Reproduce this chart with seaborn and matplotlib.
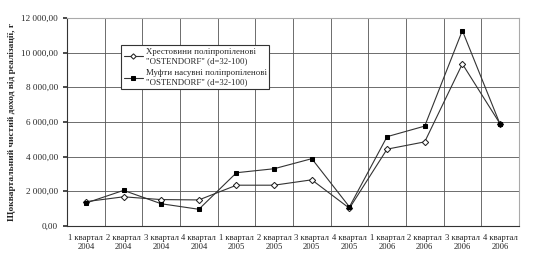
import matplotlib
matplotlib.use("Agg")
import matplotlib.pyplot as plt
import matplotlib.ticker as mticker
import numpy as np
import pandas as pd
import seaborn as sns

QUARTERS = ["1 квартал", "2 квартал", "3 квартал", "4 квартал"] * 3
YEARS = ["2004"] * 4 + ["2005"] * 4 + ["2006"] * 4
CATEGORIES = [f"{q}\n{y}" for q, y in zip(QUARTERS, YEARS)]

CROSS = [1400, 1680, 1520, 1500, 2350, 2350, 2660, 1020, 4430, 4850, 9350, 5900]
COUPLING = [1320, 2050, 1280, 960, 3070, 3300, 3880, 1100, 5150, 5760, 11270, 5880]

NAME_CROSS = "Хрестовини поліпропіленові\n\"OSTENDORF\" (d=32-100)"
NAME_COUPLING = "Муфти насувні поліпропіленові\n\"OSTENDORF\" (d=32-100)"
YLABEL = "Щоквартальний чистий доход від реалізації, г"

df = pd.DataFrame({
    "period": CATEGORIES * 2,
    "value": CROSS + COUPLING,
    "series": [NAME_CROSS] * len(CROSS) + [NAME_COUPLING] * len(COUPLING),
})

sns.set_theme(style="white")
plt.rcParams["font.family"] = ["Liberation Serif", "DejaVu Serif"]

fig = plt.figure(figsize=(5.41, 2.68), dpi=100)
ax = fig.add_axes([0.124, 0.157, 0.835, 0.776])

sns.lineplot(
    data=df, x="period", y="value", hue="series", style="series",
    hue_order=[NAME_CROSS, NAME_COUPLING],
    palette={NAME_CROSS: "#333333", NAME_COUPLING: "#333333"},
    markers={NAME_CROSS: "D", NAME_COUPLING: "s"},
    dashes=False, sort=False, linewidth=0.8, markersize=3.5, ax=ax,
)


def style_marks(lines):
    # open diamonds, filled squares
    lines[0].set_markerfacecolor("white")
    lines[0].set_markeredgecolor("#222222")
    lines[0].set_markersize(3.2)
    lines[1].set_markerfacecolor("black")
    lines[1].set_markeredgecolor("black")
    lines[1].set_markersize(3.5)


style_marks(ax.get_lines())

n = len(CATEGORIES)
ax.set_xlim(-0.5, n - 0.5)
ax.set_ylim(0, 12000)
ax.yaxis.set_major_locator(mticker.MultipleLocator(2000))
ax.yaxis.set_major_formatter(mticker.FuncFormatter(
    lambda v, p: f"{v:,.2f}".replace(",", " ").replace(".", ",")))
ax.set_xticks(np.arange(n))
ax.set_xticklabels(CATEGORIES, fontsize=6.2)
ax.set_xticks(np.arange(n + 1) - 0.5, minor=True)
ax.tick_params(axis="x", which="major", length=0, pad=6)
ax.tick_params(axis="x", which="minor", length=3, color="#333333", direction="out")
ax.tick_params(axis="y", labelsize=6.6, length=3, color="#333333", direction="out", left=True)
ax.grid(axis="y", which="major", color="#555555", linewidth=0.6)
ax.grid(axis="x", which="minor", color="#555555", linewidth=0.6)
ax.set_axisbelow(True)

for side in ["left", "bottom"]:
    ax.spines[side].set_color("#333333")
    ax.spines[side].set_linewidth(0.8)
for side in ["top", "right"]:
    ax.spines[side].set_color("#aaaaaa")
    ax.spines[side].set_linewidth(0.8)

ax.set_xlabel("")
ax.set_ylabel(YLABEL, fontsize=6.8, fontweight="bold", labelpad=4)

handles, labels = ax.get_legend_handles_labels()
style_marks(handles)
leg = ax.legend(
    handles, labels,
    loc="upper left", bbox_to_anchor=(0.11, 0.89), fontsize=6.3, frameon=True,
    fancybox=False, edgecolor="#333333", framealpha=1, handlelength=2.2,
    borderpad=0.3, labelspacing=0.5, handletextpad=0.3, markerscale=0.85,
)
leg.get_frame().set_linewidth(0.8)

fig.savefig("out.png", dpi=100)
